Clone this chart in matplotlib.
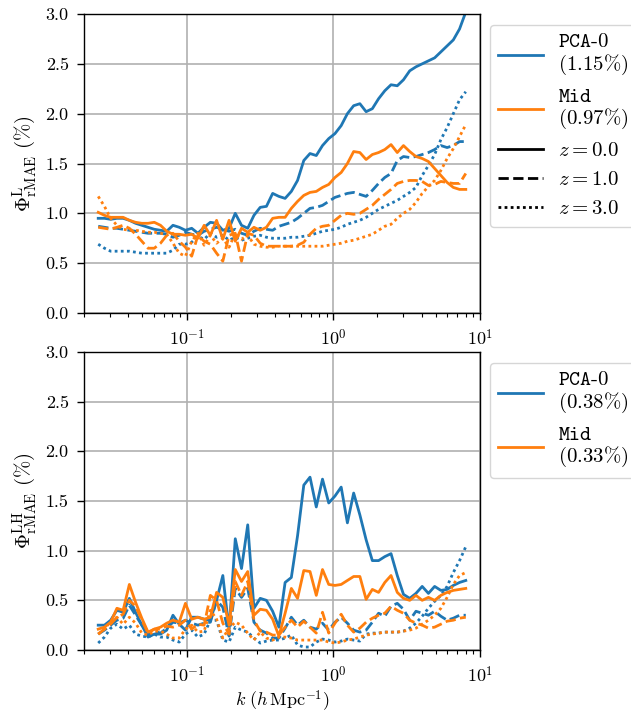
import math
import matplotlib
matplotlib.use("Agg")
import matplotlib.pyplot as plt
from matplotlib.lines import Line2D
from matplotlib.ticker import FuncFormatter, LogLocator, NullFormatter

plt.rcParams["font.family"] = "serif"
plt.rcParams["font.serif"] = ["cmr10"]
plt.rcParams["mathtext.fontset"] = "cm"
plt.rcParams["axes.formatter.use_mathtext"] = True
plt.rcParams["font.size"] = 10

# wavenumbers (h/Mpc)
k = [0.0250, 0.02757, 0.03040, 0.03352, 0.03696, 0.04075, 0.04494, 0.04955,
     0.05464, 0.06025, 0.06644, 0.07326, 0.08078, 0.08912, 0.09826, 0.1084,
     0.1195, 0.1318, 0.1453, 0.1602, 0.1767, 0.1949, 0.2148, 0.2369, 0.2612,
     0.2880, 0.3177, 0.3503, 0.3862, 0.4259, 0.4696, 0.5178, 0.5709, 0.6296,
     0.6941, 0.7659, 0.8444, 0.9312, 1.027, 1.132, 1.248, 1.377, 1.518, 1.674,
     1.846, 2.036, 2.245, 2.475, 2.730, 3.009, 3.319, 3.660, 4.036, 4.451,
     4.907, 5.412, 5.968, 6.579, 7.256, 8.000]

# top panel: Phi^L_rMAE (%)
top_pca0_z0 = [0.95, 0.95, 0.94, 0.95, 0.95, 0.93, 0.90, 0.88, 0.86, 0.84,
               0.83, 0.82, 0.88, 0.86, 0.83, 0.85, 0.80, 0.86, 0.91, 0.90,
               0.83, 0.85, 1.00, 0.88, 0.85, 0.98, 1.06, 1.07, 1.20, 1.17,
               1.15, 1.22, 1.33, 1.53, 1.60, 1.58, 1.68, 1.75, 1.80, 1.88,
               2.00, 2.08, 2.10, 2.02, 2.05, 2.15, 2.23, 2.29, 2.28, 2.34,
               2.43, 2.47, 2.50, 2.53, 2.56, 2.62, 2.68, 2.74, 2.85, 3.02]
top_pca0_z1 = [0.87, 0.86, 0.85, 0.85, 0.84, 0.83, 0.82, 0.81, 0.80, 0.80,
               0.80, 0.79, 0.76, 0.78, 0.81, 0.79, 0.78, 0.82, 0.84, 0.86,
               0.84, 0.82, 0.84, 0.80, 0.78, 0.82, 0.85, 0.84, 0.83, 0.87,
               0.89, 0.91, 0.95, 1.00, 1.05, 1.06, 1.08, 1.12, 1.16, 1.18,
               1.20, 1.21, 1.19, 1.17, 1.23, 1.30, 1.36, 1.40, 1.53, 1.57,
               1.56, 1.57, 1.59, 1.61, 1.64, 1.68, 1.66, 1.68, 1.72, 1.72]
top_pca0_z3 = [0.69, 0.65, 0.62, 0.62, 0.62, 0.62, 0.61, 0.60, 0.60, 0.60,
               0.60, 0.60, 0.63, 0.69, 0.69, 0.71, 0.77, 0.74, 0.80, 0.76,
               0.78, 0.73, 0.76, 0.73, 0.75, 0.77, 0.78, 0.76, 0.75, 0.75,
               0.75, 0.76, 0.76, 0.77, 0.78, 0.80, 0.82, 0.83, 0.84, 0.86,
               0.89, 0.91, 0.93, 0.96, 1.00, 1.04, 1.07, 1.10, 1.13, 1.17,
               1.21, 1.26, 1.38, 1.48, 1.59, 1.74, 1.86, 2.00, 2.14, 2.22]
top_mid_z0 = [1.01, 0.98, 0.96, 0.96, 0.96, 0.93, 0.91, 0.90, 0.90, 0.91,
              0.88, 0.82, 0.79, 0.79, 0.78, 0.79, 0.75, 0.88, 0.78, 0.93,
              0.74, 0.93, 0.72, 0.85, 0.81, 0.86, 0.83, 0.86, 0.95, 0.96,
              0.96, 1.05, 1.12, 1.18, 1.21, 1.22, 1.26, 1.29, 1.36, 1.41,
              1.50, 1.62, 1.61, 1.54, 1.59, 1.61, 1.64, 1.69, 1.61, 1.68,
              1.62, 1.57, 1.55, 1.52, 1.45, 1.38, 1.31, 1.26, 1.24, 1.24]
top_mid_z1 = [0.86, 0.85, 0.84, 0.86, 0.88, 0.85, 0.79, 0.72, 0.65, 0.65,
              0.70, 0.78, 0.80, 0.72, 0.66, 0.57, 0.78, 0.72, 0.69, 0.60,
              0.52, 0.78, 0.80, 0.52, 0.80, 0.78, 0.70, 0.67, 0.67, 0.67,
              0.67, 0.67, 0.68, 0.71, 0.79, 0.85, 0.87, 0.88, 0.93, 0.98,
              1.00, 0.99, 1.00, 1.04, 1.08, 1.14, 1.19, 1.24, 1.30, 1.32,
              1.33, 1.33, 1.32, 1.28, 1.29, 1.32, 1.31, 1.30, 1.30, 1.40]
top_mid_z3 = [1.17, 1.07, 0.95, 0.88, 0.84, 0.83, 0.83, 0.82, 0.81, 0.81,
              0.80, 0.79, 0.70, 0.60, 0.57, 0.72, 0.80, 0.68, 0.78, 0.70,
              0.75, 0.66, 0.80, 0.74, 0.78, 0.69, 0.67, 0.66, 0.66, 0.67,
              0.67, 0.67, 0.67, 0.67, 0.67, 0.67, 0.67, 0.68, 0.69, 0.70,
              0.72, 0.73, 0.75, 0.77, 0.79, 0.83, 0.87, 0.89, 0.95, 1.00,
              1.04, 1.11, 1.20, 1.27, 1.33, 1.43, 1.55, 1.65, 1.77, 1.89]

# bottom panel: Phi^LH_rMAE (%)
bot_pca0_z0 = [0.25, 0.25, 0.30, 0.40, 0.38, 0.52, 0.38, 0.25, 0.13, 0.16,
               0.16, 0.20, 0.35, 0.26, 0.20, 0.33, 0.33, 0.31, 0.30, 0.50,
               0.75, 0.20, 1.12, 0.82, 1.26, 0.42, 0.52, 0.50, 0.39, 0.23,
               0.68, 0.73, 1.15, 1.66, 1.74, 1.44, 1.72, 1.48, 1.55, 1.64,
               1.28, 1.58, 1.36, 1.11, 0.90, 0.90, 0.94, 0.97, 0.75, 0.56,
               0.52, 0.57, 0.64, 0.57, 0.64, 0.60, 0.61, 0.65, 0.68, 0.70]
bot_pca0_z1 = [0.16, 0.20, 0.25, 0.30, 0.32, 0.45, 0.35, 0.25, 0.15, 0.19,
               0.17, 0.22, 0.28, 0.27, 0.30, 0.27, 0.25, 0.27, 0.28, 0.50,
               0.43, 0.14, 0.62, 0.53, 0.62, 0.28, 0.20, 0.17, 0.12, 0.12,
               0.22, 0.33, 0.25, 0.30, 0.23, 0.21, 0.27, 0.20, 0.28, 0.33,
               0.27, 0.20, 0.18, 0.20, 0.28, 0.37, 0.34, 0.44, 0.47, 0.41,
               0.30, 0.39, 0.37, 0.35, 0.39, 0.34, 0.30, 0.32, 0.35, 0.35]
bot_pca0_z3 = [0.07, 0.13, 0.22, 0.26, 0.21, 0.25, 0.16, 0.14, 0.13, 0.16,
               0.13, 0.13, 0.10, 0.08, 0.16, 0.20, 0.13, 0.16, 0.30, 0.30,
               0.10, 0.08, 0.23, 0.20, 0.18, 0.12, 0.07, 0.09, 0.10, 0.10,
               0.12, 0.15, 0.05, 0.03, 0.03, 0.08, 0.11, 0.10, 0.08, 0.09,
               0.11, 0.10, 0.09, 0.16, 0.17, 0.17, 0.18, 0.18, 0.18, 0.19,
               0.22, 0.27, 0.34, 0.42, 0.49, 0.55, 0.64, 0.78, 0.90, 1.04]
bot_mid_z0 = [0.21, 0.23, 0.28, 0.42, 0.40, 0.66, 0.48, 0.32, 0.18, 0.21,
              0.23, 0.27, 0.30, 0.28, 0.47, 0.31, 0.33, 0.31, 0.33, 0.58,
              0.53, 0.25, 0.81, 0.69, 0.79, 0.35, 0.41, 0.40, 0.31, 0.14,
              0.37, 0.62, 0.52, 0.80, 0.79, 0.55, 0.81, 0.66, 0.65, 0.66,
              0.70, 0.74, 0.74, 0.51, 0.61, 0.58, 0.68, 0.75, 0.58, 0.52,
              0.50, 0.55, 0.50, 0.53, 0.50, 0.55, 0.58, 0.60, 0.61, 0.62]
bot_mid_z1 = [0.16, 0.21, 0.26, 0.33, 0.36, 0.50, 0.44, 0.30, 0.17, 0.21,
              0.21, 0.24, 0.23, 0.25, 0.30, 0.21, 0.26, 0.25, 0.55, 0.50,
              0.27, 0.16, 0.69, 0.55, 0.69, 0.30, 0.19, 0.18, 0.15, 0.15,
              0.23, 0.30, 0.23, 0.29, 0.23, 0.17, 0.38, 0.17, 0.27, 0.36,
              0.25, 0.18, 0.22, 0.28, 0.32, 0.35, 0.37, 0.44, 0.40, 0.37,
              0.30, 0.27, 0.25, 0.22, 0.23, 0.26, 0.29, 0.30, 0.32, 0.33]
bot_mid_z3 = [0.16, 0.21, 0.29, 0.33, 0.26, 0.33, 0.27, 0.17, 0.15, 0.19,
              0.19, 0.16, 0.12, 0.12, 0.21, 0.25, 0.18, 0.19, 0.40, 0.31,
              0.12, 0.22, 0.28, 0.25, 0.17, 0.10, 0.18, 0.12, 0.10, 0.13,
              0.13, 0.12, 0.10, 0.10, 0.10, 0.10, 0.10, 0.08, 0.07, 0.08,
              0.10, 0.11, 0.13, 0.15, 0.16, 0.17, 0.18, 0.18, 0.18, 0.19,
              0.20, 0.22, 0.26, 0.30, 0.35, 0.42, 0.53, 0.66, 0.75, 0.78]

models = [r"$\mathtt{PCA}$-$\mathtt{0}$", r"$\mathtt{Mid}$"]
colors = ["tab:blue", "tab:orange"]
redshifts = ["0.0", "1.0", "3.0"]
styles = ["-", (0, (3.7, 1.6)), (0, (1, 1.2))]
top_scores = ["1.15", "0.97"]
bot_scores = ["0.38", "0.33"]

top_series = [[top_pca0_z0, top_pca0_z1, top_pca0_z3],
              [top_mid_z0, top_mid_z1, top_mid_z3]]
bot_series = [[bot_pca0_z0, bot_pca0_z1, bot_pca0_z3],
              [bot_mid_z0, bot_mid_z1, bot_mid_z3]]

W, H = 631, 714
fig = plt.figure(figsize=(W / 100, H / 100), dpi=100)
ax1 = fig.add_axes([84 / W, 1 - 313 / H, 396 / W, 299 / H])
ax2 = fig.add_axes([84 / W, 1 - 650 / H, 396 / W, 298 / H])

for ax, series in [(ax1, top_series), (ax2, bot_series)]:
    for m in range(2):
        for j in range(3):
            ax.plot(k, series[m][j], color=colors[m], ls=styles[j], lw=2.0)
    ax.set_xscale("log")
    ax.set_xlim(0.02, 10)
    ax.set_ylim(0, 3)
    ax.set_yticks([0, 0.5, 1.0, 1.5, 2.0, 2.5, 3.0])
    ax.yaxis.set_major_formatter(FuncFormatter(lambda v, p: "%.1f" % v))
    ax.xaxis.set_major_locator(LogLocator(base=10, numticks=10))
    ax.xaxis.set_major_formatter(FuncFormatter(lambda v, p: r"$10^{%d}$" % round(math.log10(v))))
    ax.xaxis.set_minor_formatter(NullFormatter())
    ax.grid(True, which="major", color="#b0b0b0", lw=1.2)
    ax.tick_params(which="major", length=5, width=1.0, labelsize=13, pad=6)
    ax.tick_params(which="minor", length=3, width=0.8)
    for s in ax.spines.values():
        s.set_linewidth(1.0)

ax1.set_ylabel(r"$\Phi^{\rm L}_{\rm rMAE}\ (\%)$", fontsize=15, labelpad=5)
ax2.set_ylabel(r"$\Phi^{\rm LH}_{\rm rMAE}\ (\%)$", fontsize=15, labelpad=5)
ax2.set_xlabel(r"$k\ (h\,{\rm Mpc}^{-1})$", fontsize=13, labelpad=2)

leg_kw = dict(loc="upper left", borderaxespad=0, handlelength=2.15,
              handletextpad=0.72, labelspacing=0.5, borderpad=0.4,
              prop={"size": 15}, framealpha=0.8,
              edgecolor="#cccccc", fancybox=True)

h1 = [Line2D([], [], color=colors[m], lw=2) for m in range(2)]
l1 = ["%s\n$(%s\\%%)$" % (models[m], top_scores[m]) for m in range(2)]
h1 += [Line2D([], [], color="k", ls=styles[j], lw=2) for j in range(3)]
l1 += ["$z = %s$" % z for z in redshifts]
leg1 = ax1.legend(h1, l1, bbox_to_anchor=(1.025, 0.963), **leg_kw)

h2 = [Line2D([], [], color=colors[m], lw=2) for m in range(2)]
l2 = ["%s\n$(%s\\%%)$" % (models[m], bot_scores[m]) for m in range(2)]
leg2 = ax2.legend(h2, l2, bbox_to_anchor=(1.025, 0.963), **leg_kw)

for leg in (leg1, leg2):
    for t in leg.get_texts():
        t.set_linespacing(1.1)

fig.savefig("out.png", dpi=100)
